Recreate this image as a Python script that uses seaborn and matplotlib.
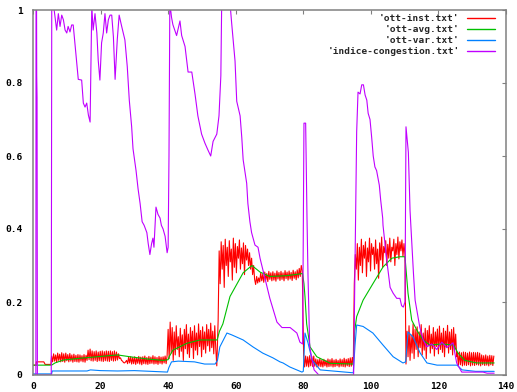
import numpy as np
import pandas as pd
import matplotlib
matplotlib.use("Agg")
import matplotlib.pyplot as plt
import seaborn as sns

# ---------------------------------------------------------------------------
# Series data (time on x, value on y)
# ---------------------------------------------------------------------------
SERIES_LABELS = ["'ott-inst.txt'", "'ott-avg.txt'", "'ott-var.txt'",
                 "'indice-congestion.txt'"]
SERIES_COLORS = ["#ff0000", "#00c000", "#0080ff", "#c000ff"]

X_TICKS = [0, 20, 40, 60, 80, 100, 120, 140]
Y_TICKS = [0, 0.2, 0.4, 0.6, 0.8, 1]
Y_TICK_LABELS = ["0", "0.2", "0.4", "0.6", "0.8", "1"]

# ott-inst: instantaneous samples, recorded every 0.3 time units
INST_STEP = 0.3
inst_start_x = [0, 0.9, 1.0, 3.2, 3.6, 5.3]
inst_start_y = [0.027, 0.027, 0.036, 0.036, 0.029, 0.029]

inst_seg_starts = [5.5, 40.0, 54.8, 65.6, 80.1, 95.1, 110.4, 125.6]

inst_seg1 = [
    0.052, 0.036, 0.058, 0.038, 0.055, 0.035, 0.060, 0.040, 0.057, 0.036,
    0.061, 0.037, 0.058, 0.035, 0.060, 0.039, 0.056, 0.036, 0.059, 0.038,
    0.055, 0.035, 0.057, 0.037, 0.054, 0.036, 0.056, 0.035, 0.055, 0.038,
    0.053, 0.036, 0.056, 0.035, 0.054, 0.040, 0.068, 0.042, 0.071, 0.039,
    0.066, 0.038, 0.064, 0.040, 0.066, 0.037, 0.063, 0.039, 0.065, 0.038,
    0.066, 0.037, 0.064, 0.039, 0.066, 0.038, 0.065, 0.037, 0.066, 0.040,
    0.064, 0.038, 0.066, 0.039, 0.063, 0.041, 0.058, 0.045, 0.047, 0.040,
    0.038, 0.034, 0.033, 0.036, 0.040, 0.031, 0.049, 0.033, 0.050, 0.030,
    0.048, 0.031, 0.050, 0.029, 0.047, 0.032, 0.051, 0.030, 0.049, 0.028,
    0.050, 0.031, 0.052, 0.030, 0.048, 0.029, 0.051, 0.031, 0.049, 0.032,
    0.053, 0.030, 0.050, 0.031, 0.048, 0.029, 0.051, 0.032, 0.049, 0.030,
    0.050, 0.033, 0.052, 0.031, 0.054,
]
inst_seg2 = [
    0.125, 0.045, 0.145, 0.060, 0.130, 0.040, 0.118, 0.055, 0.135, 0.070,
    0.105, 0.050, 0.128, 0.065, 0.110, 0.040, 0.125, 0.072, 0.138, 0.058,
    0.112, 0.048, 0.130, 0.075, 0.120, 0.045, 0.135, 0.068, 0.115, 0.055,
    0.140, 0.078, 0.122, 0.050, 0.132, 0.070, 0.118, 0.060, 0.138, 0.080,
    0.125, 0.065, 0.142, 0.075, 0.120, 0.058, 0.135, 0.072, 0.025,
]
inst_seg3 = [
    0.150, 0.340, 0.250, 0.365, 0.290, 0.355, 0.240, 0.372, 0.300, 0.350,
    0.270, 0.368, 0.310, 0.345, 0.260, 0.375, 0.295, 0.360, 0.280, 0.352,
    0.320, 0.370, 0.290, 0.348, 0.305, 0.362, 0.275, 0.355, 0.315, 0.345,
    0.300, 0.335, 0.290, 0.320, 0.275, 0.300,
]
inst_seg4 = [
    0.262, 0.248, 0.270, 0.252, 0.266, 0.255, 0.280, 0.258, 0.276, 0.254,
    0.282, 0.260, 0.278, 0.256, 0.284, 0.262, 0.280, 0.258, 0.283, 0.260,
    0.279, 0.257, 0.285, 0.263, 0.281, 0.259, 0.284, 0.262, 0.280, 0.258,
    0.286, 0.264, 0.282, 0.260, 0.285, 0.263, 0.281, 0.259, 0.287, 0.265,
    0.283, 0.261, 0.288, 0.266, 0.292, 0.270, 0.300, 0.285,
]
inst_seg5 = [
    0.055, 0.022, 0.052, 0.024, 0.050, 0.022, 0.053, 0.025, 0.051, 0.023,
    0.052, 0.024, 0.044, 0.022, 0.042, 0.024, 0.045, 0.023, 0.041, 0.022,
    0.043, 0.025, 0.040, 0.022, 0.044, 0.023, 0.042, 0.024, 0.045, 0.022,
    0.041, 0.023, 0.043, 0.025, 0.040, 0.022, 0.044, 0.024, 0.042, 0.023,
    0.046, 0.022, 0.043, 0.025, 0.045, 0.023, 0.047, 0.024, 0.048, 0.026,
]
inst_seg6 = [
    0.250, 0.330, 0.290, 0.360, 0.260, 0.350, 0.300, 0.372, 0.280, 0.355,
    0.320, 0.365, 0.270, 0.348, 0.310, 0.375, 0.285, 0.360, 0.330, 0.350,
    0.290, 0.370, 0.305, 0.345, 0.265, 0.362, 0.315, 0.378, 0.295, 0.352,
    0.335, 0.368, 0.300, 0.358, 0.320, 0.375, 0.310, 0.350, 0.340, 0.372,
    0.300, 0.360, 0.330, 0.378, 0.318, 0.365, 0.340, 0.370, 0.325, 0.360,
    0.330,
]
inst_seg7 = [
    0.030, 0.120, 0.050, 0.135, 0.040, 0.110, 0.060, 0.140, 0.045, 0.125,
    0.070, 0.132, 0.050, 0.118, 0.075, 0.138, 0.055, 0.115, 0.068, 0.128,
    0.045, 0.122, 0.080, 0.135, 0.060, 0.112, 0.072, 0.130, 0.052, 0.118,
    0.078, 0.126, 0.058, 0.134, 0.070, 0.115, 0.062, 0.128, 0.050, 0.120,
    0.075, 0.136, 0.060, 0.118, 0.070, 0.125, 0.055, 0.130, 0.068, 0.112,
    0.050,
]
inst_seg8 = [
    0.062, 0.026, 0.063, 0.028, 0.061, 0.025, 0.063, 0.027, 0.062, 0.026,
    0.060, 0.028, 0.063, 0.025, 0.061, 0.027, 0.062, 0.026, 0.061, 0.028,
    0.062, 0.027, 0.060, 0.025, 0.055, 0.028, 0.053, 0.026, 0.055, 0.027,
    0.052, 0.025, 0.054, 0.028, 0.053, 0.026, 0.052,
]

# ott-avg: smoothed average
avg_x = [0, 5.5, 6.5, 9, 14, 19, 25, 28.7, 33.7, 38.5, 40, 40.3, 41.4, 45.6,
         49.4, 54.5, 55.2, 56.2, 58.3, 60.4, 62.2, 64.8, 67.2, 70.1, 75,
         79.8, 80.2, 80.5, 81, 82, 84, 88, 94.8, 95.2, 95.8, 97.7, 100.6,
         103.6, 106.2, 108.6, 110.1, 111, 112.1, 113.6, 115.4, 117.5, 121,
         124.5, 125.8, 127.8, 131.3, 136.5]
avg_y = [0.027, 0.027, 0.033, 0.041, 0.046, 0.050, 0.055, 0.050, 0.044,
         0.040, 0.042, 0.050, 0.068, 0.087, 0.096, 0.096, 0.120, 0.140,
         0.215, 0.250, 0.280, 0.300, 0.282, 0.270, 0.272, 0.278, 0.250,
         0.215, 0.140, 0.077, 0.050, 0.032, 0.030, 0.120, 0.160, 0.205,
         0.250, 0.296, 0.320, 0.324, 0.324, 0.224, 0.150, 0.123, 0.096,
         0.082, 0.085, 0.082, 0.060, 0.040, 0.033, 0.033]

# ott-var: variance
var_x = [0, 5.5, 5.7, 16, 17, 20, 25, 30, 35, 39.8, 40.2, 41, 43, 47.8,
         50.8, 53.9, 54.6, 55.3, 57.4, 58.8, 62.2, 65.1, 68, 71, 73.1, 74,
         76, 79.6, 80, 80.5, 81.4, 82.6, 85, 94.8, 95.3, 95.8, 97.7, 100.6,
         103.6, 106.6, 109.5, 110.3, 111, 112.5, 114.6, 116.6, 119.6, 125.5,
         127, 131, 136.5]
var_y = [0.003, 0.003, 0.011, 0.011, 0.014, 0.012, 0.011, 0.012, 0.010,
         0.008, 0.020, 0.036, 0.038, 0.036, 0.030, 0.030, 0.040, 0.077,
         0.115, 0.110, 0.096, 0.077, 0.060, 0.047, 0.036, 0.033, 0.022,
         0.008, 0.010, 0.115, 0.088, 0.041, 0.014, 0.006, 0.080, 0.137,
         0.133, 0.115, 0.082, 0.050, 0.033, 0.036, 0.118, 0.104, 0.060,
         0.033, 0.027, 0.027, 0.014, 0.010, 0.010]

# indice-congestion
cong_x = [0, 0.85, 0.9, 1.05, 1.1, 1.2, 1.3, 5.4, 5.55, 6.0, 7.0, 7.5, 8.0,
          8.5, 9.0, 9.5, 10.0, 10.4, 10.95, 11.45, 11.9, 12.4, 12.9, 13.4,
          14.4, 14.9, 15.4, 15.9, 16.4, 16.9, 17.4, 17.8, 18.35, 18.9, 19.3,
          19.8, 20.3, 20.8, 21.3, 21.8, 22.3, 22.8, 23.3, 23.8, 24.3, 24.95,
          25.5, 26.25, 27.2, 27.9, 28.5, 29.2, 29.6, 30.5, 31.1, 31.7, 32.3,
          32.9, 33.7, 34.1, 34.6, 35.1, 35.5, 35.8, 36.4, 37.0, 37.6, 38.0,
          38.5, 39.1, 39.7, 40.0, 40.25, 40.5, 41.0, 41.4, 42.5, 43.5, 44.0,
          45.0, 45.9, 47.0, 47.95, 48.8, 49.9, 50.9, 51.8, 52.6, 53.3, 54.4,
          55.05, 55.6, 55.85, 58.3, 58.8, 59.8, 60.3, 61.3, 61.8, 62.2,
          63.25, 63.6, 64.2, 64.7, 65.7, 66.6, 67.2, 70.1, 72.2, 73.7, 76.1,
          78.1, 79.0, 79.8, 80.2, 80.7, 81.1, 81.4, 81.9, 83.2, 84.6, 94.9,
          95.5, 95.8, 96.2, 96.8, 97.3, 97.8, 98.3, 98.8, 99.2, 99.75,
          100.25, 100.7, 101.2, 101.7, 102.5, 102.9, 103.5, 103.6, 104.7,
          105.7, 106.6, 107.65, 108.6, 109.1, 109.6, 110.1, 110.4, 111.1,
          111.6, 112.6, 113.1, 113.75, 114.5, 115.5, 116.5, 118.0, 119.5,
          121.0, 122.5, 124.3, 125.4, 126.9, 133.2, 134.4, 136.5]
cong_y = [0.0, 0.0, 1.02, 1.02, 0.82, 0.76, 0.0, 0.0, 1.02, 1.02, 0.945,
          0.99, 0.955, 0.986, 0.973, 0.945, 0.937, 0.955, 0.94, 0.959, 0.959,
          0.91, 0.863, 0.81, 0.808, 0.745, 0.734, 0.745, 0.712, 0.693, 1.01,
          0.945, 0.99, 0.937, 0.863, 0.808, 0.91, 0.937, 0.99, 0.937, 0.973,
          0.986, 0.986, 0.926, 0.81, 0.92, 0.986, 0.955, 0.918, 0.845, 0.753,
          0.68, 0.62, 0.56, 0.51, 0.47, 0.42, 0.41, 0.39, 0.36, 0.33, 0.36,
          0.375, 0.35, 0.46, 0.44, 0.43, 0.41, 0.40, 0.38, 0.335, 0.35, 0.60,
          1.02, 0.98, 0.96, 0.93, 0.97, 0.93, 0.90, 0.83, 0.83, 0.77, 0.71,
          0.66, 0.635, 0.616, 0.60, 0.64, 0.66, 0.71, 0.82, 1.02, 1.02, 0.964,
          0.86, 0.75, 0.71, 0.65, 0.59, 0.525, 0.47, 0.42, 0.39, 0.356, 0.35,
          0.32, 0.21, 0.145, 0.13, 0.13, 0.115, 0.09, 0.085, 0.69, 0.69, 0.43,
          0.27, 0.077, 0.014, 0.0, 0.0, 0.45, 0.666, 0.775, 0.77, 0.795,
          0.795, 0.767, 0.753, 0.717, 0.70, 0.65, 0.60, 0.57, 0.56, 0.52,
          0.48, 0.43, 0.41, 0.315, 0.24, 0.224, 0.21, 0.21, 0.19, 0.186, 0.20,
          0.68, 0.61, 0.45, 0.28, 0.205, 0.17, 0.13, 0.096, 0.077, 0.085,
          0.070, 0.090, 0.075, 0.088, 0.033, 0.008, 0.008, 0.005, 0.005]


def inst_series():
    """Assemble the instantaneous samples into one x/y pair."""
    xs = [np.asarray(inst_start_x, dtype=float)]
    ys = [np.asarray(inst_start_y, dtype=float)]
    segs = [inst_seg1, inst_seg2, inst_seg3, inst_seg4,
            inst_seg5, inst_seg6, inst_seg7, inst_seg8]
    for start, vals in zip(inst_seg_starts, segs):
        xs.append(start + INST_STEP * np.arange(len(vals)))
        ys.append(np.asarray(vals, dtype=float))
    return np.concatenate(xs), np.concatenate(ys)


inst_x, inst_y = inst_series()

frames = []
for label, xv, yv in zip(SERIES_LABELS,
                         [inst_x, avg_x, var_x, cong_x],
                         [inst_y, avg_y, var_y, cong_y]):
    frames.append(pd.DataFrame({"t": np.asarray(xv, float),
                                "value": np.asarray(yv, float),
                                "series": label,
                                "order": np.arange(len(xv))}))
data = pd.concat(frames, ignore_index=True)

# ---------------------------------------------------------------------------
# Figure
# ---------------------------------------------------------------------------
sns.set_style("white")
plt.rcParams["font.family"] = ["DejaVu Sans Mono"]
plt.rcParams["font.weight"] = "bold"

W, H = 517, 392
fig = plt.figure(figsize=(W / 100, H / 100), dpi=100)
ax = fig.add_axes([33 / W, 17 / H, 473 / W, 365 / H])

for label, color in zip(SERIES_LABELS, SERIES_COLORS):
    sub = data[data["series"] == label]
    sns.lineplot(data=sub, x="t", y="value", color=color, linewidth=0.8,
                 estimator=None, sort=False, label=label, ax=ax)

ax.set_xlim(0, 140)
ax.set_ylim(0, 1)
ax.set_xticks(X_TICKS)
ax.set_xticklabels([str(v) for v in X_TICKS])
ax.set_yticks(Y_TICKS)
ax.set_yticklabels(Y_TICK_LABELS)
ax.set_xlabel("")
ax.set_ylabel("")

frame_color = "#808080"
for side in ["left", "right", "top", "bottom"]:
    ax.spines[side].set_visible(True)
    ax.spines[side].set_color(frame_color)
    ax.spines[side].set_linewidth(1.1)

ax.tick_params(axis="both", which="both", direction="in", length=3,
               width=0.8, color=frame_color, labelsize=6.8,
               labelcolor="black", top=True, right=True)
ax.tick_params(axis="y", pad=7.5)
ax.tick_params(axis="x", pad=5)
for lbl in ax.get_xticklabels() + ax.get_yticklabels():
    lbl.set_fontweight("bold")

leg = ax.legend(loc="upper right", bbox_to_anchor=(0.9767, 0.988),
                frameon=False, markerfirst=False, fontsize=6.8,
                handlelength=3.0, handletextpad=0.75, labelspacing=0.2,
                borderpad=0, borderaxespad=0)
for line in leg.get_lines():
    line.set_linewidth(1.0)
for txt in leg.get_texts():
    txt.set_fontweight("bold")

fig.savefig("out.png", dpi=100)
